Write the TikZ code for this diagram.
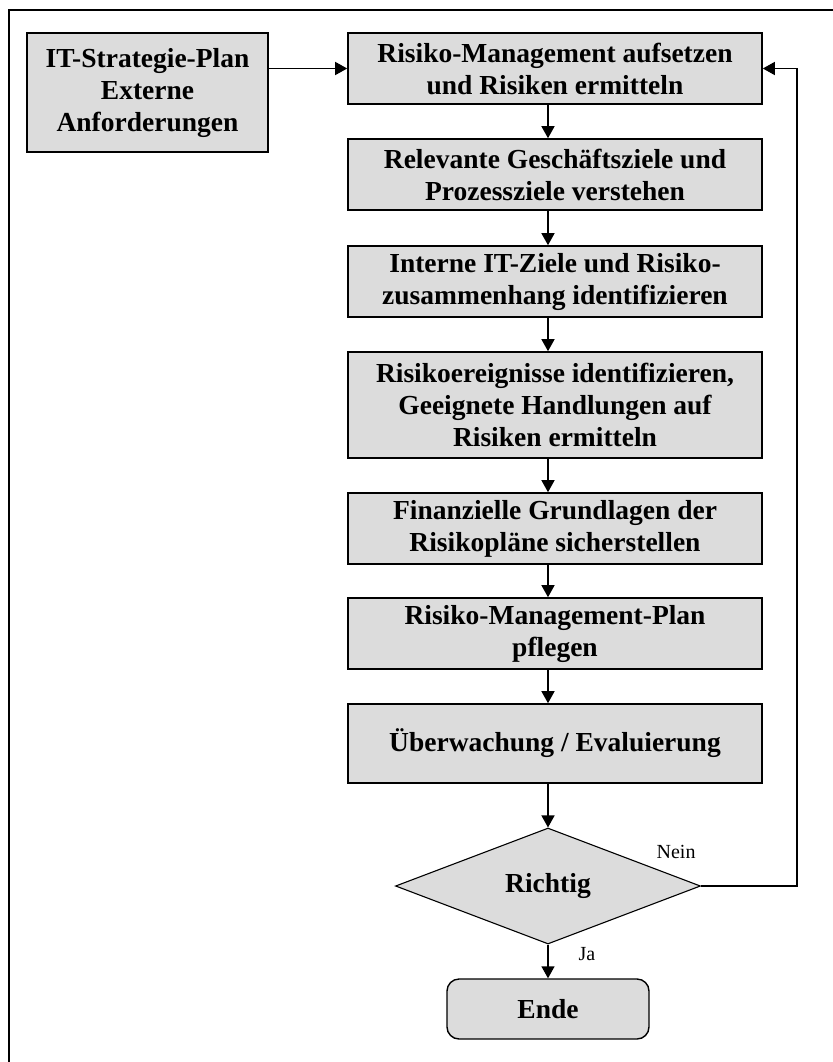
\documentclass[tikz,border=0pt]{standalone}
\usepackage{fontspec}
\setmainfont{Liberation Serif}
\usepackage{tikz}
\usetikzlibrary{shapes.geometric,arrows.meta,calc,positioning}
\definecolor{boxgray}{RGB}{220,220,220}

\begin{document}
\begin{tikzpicture}[x=1pt, y=-1pt,  align=center,  inner sep=0pt,
      proc/.style={draw, fill=boxgray, line width=1.6pt, minimum width=414pt,
                   font=\fontsize{27.5}{32}\selectfont\bfseries },
    decision/.style={diamond, draw, fill=boxgray, line width=1.1pt,
                   minimum width=305pt, minimum height=116pt,
                   font=\fontsize{27.5}{32}\selectfont\bfseries },
    terminal/.style={draw, fill=boxgray, rounded corners=12pt, line width=1.4pt,
                   minimum width=202pt, minimum height=60pt,
                   font=\fontsize{27.5}{32}\selectfont\bfseries },
       small/.style={font=\fontsize{20}{22}\selectfont },  ]

    \useasboundingbox (0,0) rectangle (832,1062);
    \draw[line width=2pt] (840,10) -- (9,10) -- (9,1070);

    \node[proc, minimum width=241pt, minimum height=119pt] (strat) at (147.5,92.5)
         {IT-Strategie-Plan\\ Externe\\ Anforderungen};

    \node[proc, minimum height= 71pt] (b1) at (555,68.5)
         {Risiko-Management aufsetzen\\ und Risiken ermitteln};
    \node[proc, minimum height= 71pt] (b2) at (555,174.5)
         {Relevante Geschäftsziele und\\ Prozessziele verstehen};
    \node[proc, minimum height= 71pt] (b3) at (555,281.5)
         {Interne IT-Ziele und Risiko-\\ zusammenhang identifizieren};
    \node[proc, minimum height=106pt] (b4) at (555,405)
         {Risikoereignisse identifizieren,\\ Geeignete Handlungen auf\\ Risiken ermitteln};
    \node[proc, minimum height= 71pt] (b5) at (555,528.5)
         {Finanzielle Grundlagen der\\ Risikopläne sicherstellen};
    \node[proc, minimum height= 71pt] (b6) at (555,633.5)
         {Risiko-Management-Plan\\ pflegen};
    \node[proc, minimum height= 79pt] (b7) at (555,743.5)
         {Überwachung / Evaluierung};

    \node[decision] (dec)  at (548,886)  {Richtig};
    \node[terminal] (ende) at (548,1009) {Ende};

    \node[small] (nein) at ($(dec.east)+(-25,-34)$) {Nein};
    \node[small] (ja)   at ($(dec.south)+(39,9)$)   {Ja};

    \begin{scope}[line width=1.4pt, >={Triangle[length=12pt,width=13pt]}]
      \draw[->] (strat.east |- b1.west) -- (b1.west);
      \foreach \a/\b in {b1/b2,b2/b3,b3/b4,b4/b5,b5/b6,b6/b7}
        \draw[->] (\a.south -| dec) -- (\b.north -| dec);
      \draw[->] (b7.south -| dec) -- ++(0,38) -- (dec.north);
      \draw[->] (dec.south) -- (ende.north);
      \draw[->] (dec.east) -| ($(b1.east)+(34,0)$) -- (b1.east);
    \end{scope}

  \end{tikzpicture}
\end{document}
